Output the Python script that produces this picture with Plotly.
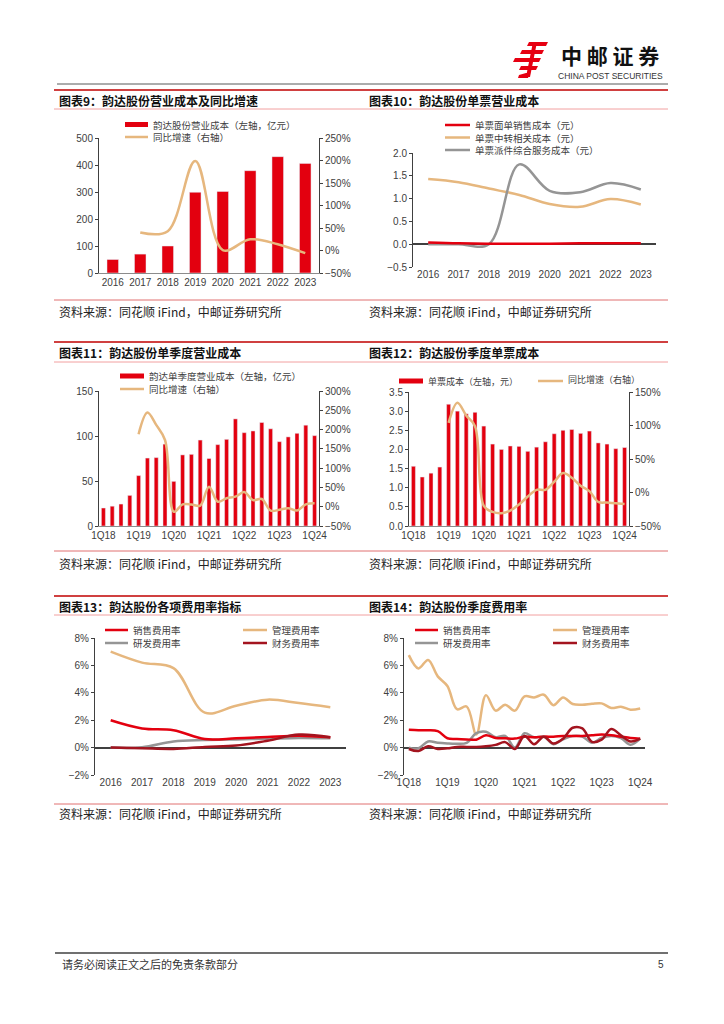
import plotly.graph_objects as go

W, H = 724, 1024
OFF = 8  # the page body adds an 8px margin; compensate so pixel targets match


def X(px):
    return (px - OFF) / W


def Y(py):
    return 1 - (py - OFF) / H


# ---------------- data ----------------
years = ["2016", "2017", "2018", "2019", "2020", "2021", "2022", "2023"]
quarters = ["1Q18", "2Q18", "3Q18", "4Q18", "1Q19", "2Q19", "3Q19", "4Q19",
            "1Q20", "2Q20", "3Q20", "4Q20", "1Q21", "2Q21", "3Q21", "4Q21",
            "1Q22", "2Q22", "3Q22", "4Q22", "1Q23", "2Q23", "3Q23", "4Q23", "1Q24"]
quarter_ticks = ["1Q18", "1Q19", "1Q20", "1Q21", "1Q22", "1Q23", "1Q24"]

# chart 9
cost_annual = [50, 70, 100, 299, 302, 379, 431, 406]
cost_annual_yoy = [None, 40, 43, 199, 1, 25, 14, -6]

# chart 10
unit_sheet = [0.04, 0.02, 0.01, 0.01, 0.01, 0.02, 0.02, 0.02]
unit_transfer = [1.43, 1.36, 1.22, 1.08, 0.88, 0.82, 0.99, 0.87]
unit_delivery = [0.0, 0.0, 0.0, 1.75, 1.17, 1.14, 1.34, 1.20]

# chart 11
q_cost = [20, 22, 24.4, 34, 56, 75.5, 76, 91, 49.6, 79, 79.6, 95.5, 75, 90.4,
          96.3, 119, 103.7, 105.6, 115, 108, 93.7, 99, 103, 112, 100.4]
q_cost_yoy = [None, None, None, None, 188, 244, 212, 173, -13, 6, 6, 3, 52, 13,
              22, 26, 38, 17, 20, -10, -8, -4, -10, 6, 9]

# chart 12
q_unit = [1.56, 1.28, 1.38, 1.54, 3.18, 3.00, 2.93, 2.97, 2.61, 2.14, 2.00, 2.09,
          2.08, 1.95, 2.06, 2.20, 2.41, 2.50, 2.52, 2.42, 2.48, 2.17, 2.14, 2.02, 2.05]
q_unit_yoy = [None, None, None, None, 104, 134, 115, 99, -20, -29, -31, -27, -18,
              -6, 4, 4, 16, 29, 22, 10, 2, -14, -15, -16, -17]

# chart 13
fee_sales = [2.0, 1.4, 1.27, 0.62, 0.68, 0.78, 0.87, 0.75]
fee_mgmt = [7.0, 6.2, 5.8, 2.55, 3.05, 3.5, 3.25, 2.95]
fee_rd = [0.0, 0.02, 0.45, 0.55, 0.6, 0.65, 0.7, 0.68]
fee_fin = [0.0, -0.05, -0.1, 0.05, 0.15, 0.5, 0.95, 0.75]

# chart 14
q_sales = [1.3, 1.27, 1.27, 1.2, 0.68, 0.63, 0.6, 0.58, 0.9, 0.7, 0.68, 0.66, 0.8,
           0.75, 0.8, 0.8, 0.85, 0.85, 0.85, 0.9, 0.95, 0.9, 0.8, 0.7, 0.65]
q_mgmt = [6.75, 5.78, 6.4, 5.2, 4.5, 2.8, 3.0, 0.95, 3.83, 2.7, 3.13, 2.7, 3.74,
          3.66, 3.86, 3.1, 3.66, 3.18, 3.13, 3.2, 3.23, 2.89, 2.98, 2.77, 2.86]
q_rd = [0.0, -0.05, 0.45, 0.35, 0.3, 0.28, 0.35, 1.05, 1.15, 0.75, 0.85, 0.0, 1.05,
        0.75, 0.8, 0.25, 0.6, 0.85, 0.8, 0.35, 0.7, 0.85, 0.7, 0.2, 0.65]
q_fin = [-0.1, -0.25, 0.1, -0.1, -0.05, 0.05, 0.05, 0.05, 0.1, 0.2, 0.4, -0.1, 0.85,
         0.25, 0.8, 0.3, 0.65, 1.45, 1.4, 0.42, 0.58, 1.35, 0.9, 0.45, 0.65]

titles = ["图表9：韵达股份营业成本及同比增速", "图表10：韵达股份单票营业成本",
          "图表11：韵达股份单季度营业成本", "图表12：韵达股份季度单票成本",
          "图表13：韵达股份各项费用率指标", "图表14：韵达股份季度费用率"]
source_text = "资料来源：同花顺 iFind，中邮证券研究所"

# ---------------- styles ----------------
RED = "#e3000f"
TAN = "#e6b77e"
GRAY = "#959595"
DRED = "#a3141f"
CJK = "Noto Sans CJK SC"
NUM = "Liberation Sans, Arial, sans-serif"
tickfont = dict(family=NUM, size=10, color="#404040")

fig = go.Figure()

# chart 9
fig.add_trace(go.Bar(x=years, y=cost_annual, marker_color=RED, width=0.42,
                     xaxis="x", yaxis="y"))
fig.add_trace(go.Scatter(x=years, y=cost_annual_yoy, mode="lines",
                         line=dict(color=TAN, width=2.5, shape="spline"),
                         xaxis="x", yaxis="y2"))
# chart 10
fig.add_trace(go.Scatter(x=years, y=unit_transfer, mode="lines",
                         line=dict(color=TAN, width=2.5, shape="spline"),
                         xaxis="x2", yaxis="y3"))
fig.add_trace(go.Scatter(x=years, y=unit_delivery, mode="lines",
                         line=dict(color=GRAY, width=2.5, shape="spline"),
                         xaxis="x2", yaxis="y3"))
fig.add_trace(go.Scatter(x=years, y=unit_sheet, mode="lines",
                         line=dict(color=RED, width=2.5, shape="spline"),
                         xaxis="x2", yaxis="y3"))
# chart 11
fig.add_trace(go.Bar(x=quarters, y=q_cost, marker_color=RED, width=0.46,
                     xaxis="x3", yaxis="y4"))
fig.add_trace(go.Scatter(x=quarters, y=q_cost_yoy, mode="lines",
                         line=dict(color=TAN, width=2.5, shape="spline"),
                         xaxis="x3", yaxis="y5"))
# chart 12
fig.add_trace(go.Bar(x=quarters, y=q_unit, marker_color=RED, width=0.46,
                     xaxis="x4", yaxis="y6"))
fig.add_trace(go.Scatter(x=quarters, y=q_unit_yoy, mode="lines",
                         line=dict(color=TAN, width=2.5, shape="spline"),
                         xaxis="x4", yaxis="y7"))
# chart 13
for vals, col in [(fee_mgmt, TAN), (fee_rd, GRAY), (fee_sales, RED), (fee_fin, DRED)]:
    fig.add_trace(go.Scatter(x=years, y=vals, mode="lines",
                             line=dict(color=col, width=2.5, shape="spline"),
                             xaxis="x5", yaxis="y8"))
# chart 14
for vals, col in [(q_mgmt, TAN), (q_rd, GRAY), (q_sales, RED), (q_fin, DRED)]:
    fig.add_trace(go.Scatter(x=quarters, y=vals, mode="lines",
                             line=dict(color=col, width=2.5, shape="spline"),
                             xaxis="x6", yaxis="y9"))


def xcat(dom, anchor, cats, ticks=None, line=False):
    d = dict(domain=[X(dom[0]), X(dom[1])], anchor=anchor, type="category",
             categoryorder="array", categoryarray=cats,
             range=[-0.5, len(cats) - 0.5], showgrid=False, zeroline=False,
             showline=line, linecolor="#8c8c8c", linewidth=1, ticks="",
             tickfont=tickfont, automargin=False, fixedrange=True)
    if ticks is not None:
        d.update(tickmode="array", tickvals=ticks, ticktext=ticks)
    return d


def yax(dom, anchor, rng, dtick, suffix="", fmt=None, side="left",
        overlay=None, zero=False):
    d = dict(anchor=anchor, range=rng, dtick=dtick, tick0=rng[0],
             ticksuffix=suffix, side=side, showgrid=False, showline=True,
             linecolor="#404040", linewidth=1, ticks="outside", ticklen=3,
             tickcolor="#404040", tickfont=tickfont, automargin=False,
             zeroline=zero, zerolinecolor="#404040", zerolinewidth=1.5,
             fixedrange=True)
    if overlay:
        d["overlaying"] = overlay
    else:
        d["domain"] = [Y(dom[1]), Y(dom[0])]
    if fmt:
        d["tickformat"] = fmt
    return d


layout = dict(
    width=W, height=H, margin=dict(l=0, r=0, t=0, b=0),
    paper_bgcolor="white", plot_bgcolor="rgba(0,0,0,0)", showlegend=False,
    font=dict(family=CJK, color="#222"),
    xaxis=xcat((99, 319), "y", years, line=True),
    yaxis=yax((138, 273), "x", [0, 500], 100),
    yaxis2=yax(None, "x", [-50, 250], 50, suffix="%", side="right", overlay="y"),
    xaxis2=xcat((413, 656), "y3", years),
    yaxis3=yax((153, 267), "x2", [-0.5, 2.0], 0.5, fmt=".1f", zero=True),
    xaxis3=xcat((99, 319), "y4", quarters, ticks=quarter_ticks, line=True),
    yaxis4=yax((391, 526), "x3", [0, 150], 50),
    yaxis5=yax(None, "x3", [-50, 300], 50, suffix="%", side="right", overlay="y4"),
    xaxis4=xcat((409, 629), "y6", quarters, ticks=quarter_ticks, line=True),
    yaxis6=yax((392, 526), "x4", [0, 3.5], 0.5, fmt=".1f"),
    yaxis7=yax(None, "x4", [-50, 150], 50, suffix="%", side="right", overlay="y6"),
    xaxis5=xcat((95, 346), "y8", years),
    yaxis8=yax((638, 775), "x5", [-2, 8], 2, suffix="%", zero=True),
    xaxis6=xcat((404, 645), "y9", quarters, ticks=quarter_ticks),
    yaxis9=yax((638, 775), "x6", [-2, 8], 2, suffix="%", zero=True),
)
fig.update_layout(**layout)

shapes = []
annotations = []


def hline(x0, x1, y, color, width):
    shapes.append(dict(type="line", xref="paper", yref="paper", x0=X(x0), x1=X(x1),
                       y0=Y(y), y1=Y(y), line=dict(color=color, width=width)))


def rect(x0, x1, y0, y1, color):
    shapes.append(dict(type="rect", xref="paper", yref="paper", x0=X(x0), x1=X(x1),
                       y0=Y(y1), y1=Y(y0), fillcolor=color, line=dict(width=0)))


def poly(pts, color):
    p = "M " + " L ".join(f"{X(a):.5f},{Y(b):.5f}" for a, b in pts) + " Z"
    shapes.append(dict(type="path", xref="paper", yref="paper", path=p,
                       fillcolor=color, line=dict(width=0)))


def text(x, y, s, size, color="#222", anchor="left", family=CJK):
    annotations.append(dict(x=X(x), y=Y(y), xref="paper", yref="paper", text=s,
                            showarrow=False, xanchor=anchor, yanchor="middle",
                            font=dict(family=family, size=size, color=color)))


# header
hline(57, 668, 84, "#595959", 1)
LOGO = "#e60012"
poly([(529, 42), (548, 42), (546, 46), (527, 46)], LOGO)
poly([(522, 50), (544, 50), (542, 54), (520, 54)], LOGO)
poly([(515, 58), (541, 58), (539, 62), (513, 62)], LOGO)
poly([(521, 66), (538, 66), (536, 70), (519, 70)], LOGO)
poly([(533, 42), (537, 42), (530, 77), (526, 77)], LOGO)
poly([(526, 73), (530, 73), (528, 78), (518, 78), (519, 75)], LOGO)
text(610, 55, "<b>中 邮 证 券</b>", 21, color="#111", anchor="center")
text(610, 75.5, "CHINA POST SECURITIES", 8.5, color="#333", anchor="center",
     family=NUM)

# section frames
for top, ttl_y, under, bottom, src_y, (tl, tr) in [
        (90, 100, 109, 300, 311, (titles[0], titles[1])),
        (342, 352, 362, 551, 563, (titles[2], titles[3])),
        (596, 606, 615, 804, 813, (titles[4], titles[5]))]:
    hline(54, 668, top, "#c00000", 1.5)
    hline(54, 668, under, "#f2a0a0", 1)
    hline(54, 668, bottom, "#e07070", 1)
    text(57, ttl_y, f"<b>{tl}</b>", 12, color="#111")
    text(367, ttl_y, f"<b>{tr}</b>", 12, color="#111")
    text(57, src_y, source_text, 12, color="#222")
    text(367, src_y, source_text, 12, color="#222")

# legends (manual keys)
LEG = 9.5
LCOL = "#404040"
# chart 9
rect(125, 148, 122, 127, RED)
text(151, 124.5, "韵达股份营业成本（左轴，亿元）", LEG, LCOL)
hline(125, 148, 137, TAN, 2.5)
text(151, 137, "同比增速（右轴）", LEG, LCOL)
# chart 10
hline(445, 470, 125, RED, 2.5)
text(473, 125, "单票面单销售成本（元）", LEG, LCOL)
hline(445, 470, 137.5, TAN, 2.5)
text(473, 137.5, "单票中转相关成本（元）", LEG, LCOL)
hline(445, 470, 150, GRAY, 2.5)
text(473, 150, "单票派件综合服务成本（元）", LEG, LCOL)
# chart 11
rect(120, 144, 373.5, 378.5, RED)
text(147, 376, "韵达单季度营业成本（左轴，亿元）", LEG, LCOL)
hline(120, 144, 389, TAN, 2.5)
text(147, 389, "同比增速（右轴）", LEG, LCOL)
# chart 12
rect(399, 423, 378.5, 383.5, RED)
text(426, 381, "单票成本（左轴，元）", 9, LCOL)
hline(538, 563, 381, TAN, 2.5)
text(566, 379.5, "同比增速（右轴）", 9, LCOL)
# charts 13/14
for off in (0, 310):
    hline(105 + off, 128 + off, 630, RED, 2.5)
    text(131 + off, 630, "销售费用率", LEG, LCOL)
    hline(243 + off, 267 + off, 630, TAN, 2.5)
    text(270 + off, 630, "管理费用率", LEG, LCOL)
    hline(105 + off, 128 + off, 643, GRAY, 2.5)
    text(131 + off, 643, "研发费用率", LEG, LCOL)
    hline(243 + off, 267 + off, 643, DRED, 2.5)
    text(270 + off, 643, "财务费用率", LEG, LCOL)

# footer
hline(55, 668, 953, "#404040", 1.5)
text(60, 964, "请务必阅读正文之后的免责条款部分", 11, color="#333")
text(666, 964, "5", 10, color="#333", anchor="right", family=NUM)

fig.update_layout(shapes=shapes, annotations=annotations)
fig.write_html("out.html")
